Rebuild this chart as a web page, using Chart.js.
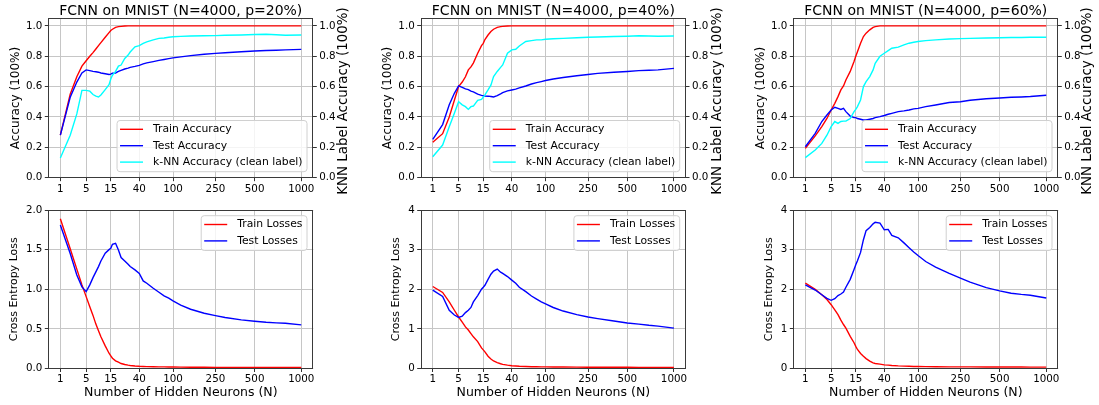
<!DOCTYPE html>
<html><head><meta charset="utf-8">
<script src="https://cdn.jsdelivr.net/npm/chart.js@4.4.1/dist/chart.umd.min.js"></script>
<style>
html,body{margin:0;padding:0;background:#fff;}
#wrap{position:relative;width:1099px;height:405px;overflow:hidden;background:#fff;}
#wrap canvas{position:absolute;left:0;top:0;}
</style></head><body>
<div id="wrap">
<canvas id="c0" width="1099" height="405"></canvas>
<canvas id="c1" width="1099" height="405"></canvas>
<canvas id="c2" width="1099" height="405"></canvas>
<canvas id="c3" width="1099" height="405"></canvas>
<canvas id="c4" width="1099" height="405"></canvas>
<canvas id="c5" width="1099" height="405"></canvas>
</div>
<script>
// ---------------- DATA ----------------
const hiddenNeurons = [1,2,3,4,5,6,7,8,9,10,12,14,15,16,18,20,22,25,28,30,35,40,45,50,60,70,80,90,100,120,150,200,250,300,400,500,600,700,800,1000];
const xTickNeurons = [1,5,15,40,100,250,500,1000];
const accTicks = [0,0.2,0.4,0.6,0.8,1.0];
const loss20Ticks = [0,0.5,1.0,1.5,2.0];
const lossHighTicks = [0,1,2,3,4];
const panelTitles = ['FCNN on MNIST (N=4000, p=20%)','FCNN on MNIST (N=4000, p=40%)','FCNN on MNIST (N=4000, p=60%)'];

const trainAcc20 = [0.28,0.55,0.665,0.735,0.77,0.80,0.824,0.848,0.87,0.89,0.925,0.956,0.97,0.978,0.99,0.995,0.997,0.999,1,1,1,1,1,1,1,1,1,1,1,1,1,1,1,1,1,1,1,1,1,1];
const testAcc20  = [0.28,0.53,0.63,0.69,0.71,0.705,0.70,0.698,0.695,0.69,0.685,0.68,0.682,0.688,0.69,0.70,0.707,0.716,0.722,0.727,0.733,0.74,0.75,0.756,0.765,0.773,0.779,0.784,0.789,0.796,0.804,0.813,0.819,0.823,0.83,0.835,0.838,0.84,0.842,0.845];
const knnAcc20   = [0.13,0.28,0.42,0.575,0.575,0.57,0.548,0.537,0.532,0.545,0.58,0.612,0.65,0.675,0.70,0.735,0.742,0.785,0.808,0.828,0.862,0.87,0.885,0.895,0.908,0.918,0.92,0.925,0.928,0.931,0.933,0.935,0.936,0.938,0.94,0.943,0.945,0.942,0.938,0.94];

const trainAcc40 = [0.233,0.29,0.40,0.51,0.60,0.63,0.665,0.71,0.73,0.755,0.82,0.87,0.885,0.91,0.94,0.963,0.978,0.99,0.995,0.997,0.999,1,1,1,1,1,1,1,1,1,1,1,1,1,1,1,1,1,1,1];
const testAcc40  = [0.253,0.35,0.48,0.556,0.605,0.595,0.585,0.58,0.57,0.565,0.55,0.542,0.54,0.538,0.537,0.535,0.532,0.54,0.552,0.56,0.572,0.578,0.583,0.592,0.604,0.617,0.626,0.633,0.64,0.65,0.66,0.672,0.68,0.687,0.695,0.70,0.705,0.708,0.71,0.72];
const knnAcc40   = [0.138,0.215,0.336,0.424,0.50,0.48,0.468,0.45,0.468,0.472,0.51,0.516,0.53,0.545,0.578,0.61,0.666,0.70,0.727,0.743,0.82,0.842,0.846,0.868,0.897,0.903,0.908,0.908,0.912,0.915,0.918,0.922,0.925,0.927,0.93,0.932,0.935,0.933,0.932,0.933];

const trainAcc60 = [0.193,0.275,0.336,0.39,0.446,0.49,0.534,0.578,0.604,0.644,0.70,0.765,0.80,0.83,0.886,0.93,0.952,0.974,0.99,0.995,1,1,1,1,1,1,1,1,1,1,1,1,1,1,1,1,1,1,1,1];
const testAcc60  = [0.204,0.292,0.37,0.413,0.446,0.464,0.457,0.45,0.457,0.435,0.406,0.396,0.396,0.39,0.385,0.38,0.38,0.385,0.39,0.396,0.402,0.41,0.418,0.424,0.435,0.44,0.446,0.453,0.457,0.468,0.479,0.495,0.50,0.51,0.52,0.525,0.53,0.532,0.535,0.543];
const knnAcc60   = [0.132,0.182,0.226,0.28,0.336,0.37,0.358,0.37,0.373,0.373,0.39,0.435,0.45,0.468,0.512,0.60,0.633,0.666,0.71,0.754,0.80,0.82,0.837,0.853,0.86,0.875,0.886,0.892,0.897,0.903,0.908,0.914,0.916,0.918,0.92,0.922,0.924,0.924,0.925,0.925];

const trainLoss20 = [1.89,1.51,1.254,1.055,0.907,0.78,0.67,0.56,0.475,0.40,0.285,0.193,0.16,0.13,0.097,0.08,0.063,0.05,0.042,0.038,0.032,0.028,0.026,0.024,0.022,0.021,0.02,0.019,0.018,0.017,0.016,0.015,0.014,0.014,0.013,0.013,0.012,0.012,0.012,0.012];
const testLoss20  = [1.81,1.45,1.18,1.03,0.97,1.055,1.147,1.22,1.286,1.357,1.454,1.50,1.517,1.567,1.58,1.496,1.40,1.357,1.315,1.286,1.244,1.20,1.105,1.076,1.013,0.962,0.916,0.887,0.853,0.80,0.748,0.697,0.668,0.643,0.613,0.597,0.584,0.576,0.571,0.55];

const trainLoss40 = [2.07,1.92,1.68,1.47,1.30,1.17,1.05,0.97,0.88,0.80,0.68,0.52,0.47,0.42,0.31,0.24,0.19,0.15,0.12,0.105,0.085,0.07,0.062,0.056,0.05,0.046,0.043,0.041,0.04,0.038,0.036,0.034,0.033,0.032,0.031,0.03,0.029,0.029,0.028,0.028];
const testLoss40  = [1.98,1.82,1.47,1.35,1.29,1.32,1.41,1.47,1.54,1.68,1.84,2.0,2.05,2.1,2.25,2.38,2.46,2.51,2.43,2.40,2.32,2.23,2.15,2.05,1.94,1.83,1.75,1.68,1.63,1.54,1.45,1.36,1.30,1.26,1.20,1.15,1.12,1.09,1.07,1.02];

const trainLoss60 = [2.155,2.0,1.86,1.74,1.61,1.48,1.36,1.22,1.11,1.02,0.81,0.65,0.56,0.48,0.38,0.31,0.25,0.185,0.14,0.125,0.11,0.092,0.084,0.075,0.065,0.06,0.055,0.052,0.05,0.048,0.045,0.042,0.041,0.04,0.038,0.037,0.036,0.036,0.035,0.035];
const testLoss60  = [2.11,1.98,1.86,1.77,1.72,1.76,1.84,1.88,1.93,2.05,2.25,2.50,2.62,2.72,2.93,3.25,3.48,3.56,3.65,3.69,3.67,3.50,3.51,3.36,3.30,3.17,3.05,2.94,2.85,2.70,2.56,2.40,2.28,2.18,2.04,1.96,1.90,1.87,1.85,1.78];

// ---------------- STYLE / LAYOUT ----------------
Chart.defaults.font.family = '"DejaVu Sans", sans-serif';
Chart.defaults.color = '#000';
const FONT = '"DejaVu Sans", sans-serif';
const TICK_FS = 10.3;
const GRID = '#c6c6c6';
const RED = '#ff0000', BLUE = '#0000ff', CYAN = '#00ffff';
const LW = 1.4;

const colL = [48.3, 420.7, 793.3];
const colR = [313.3, 686, 1058.3];
const topY = [18.3, 177.7];
const botY = [210, 368.5];
const yLabTopX = [16, 388, 761];
const yLabBotX = [14, 396, 769.5];
const rightLabX = [343.3, 718, 1088];
const RIGHT_W = 45;

const fwd = n => Math.pow(n, 0.25);
const xLo = fwd(hiddenNeurons[0]), xHi = fwd(hiddenNeurons[hiddenNeurons.length-1]);
const xMin = xLo - 0.05*(xHi-xLo), xMax = xHi + 0.05*(xHi-xLo);
const pts = arr => hiddenNeurons.map((n,i) => ({x: fwd(n), y: arr[i]}));

const decor = {
  id: 'decor',
  afterDatasetsDraw(chart, args, o) {
    const ctx = chart.ctx, a = chart.chartArea;
    ctx.save();
    ctx.strokeStyle = '#3a3a3a'; ctx.lineWidth = 1;
    const l = Math.round(a.left)+0.5, t = Math.round(a.top)+0.5, r = Math.round(a.right)-0.5, b = Math.round(a.bottom)-0.5;
    ctx.strokeRect(l, t, r-l, b-t);
    ctx.fillStyle = '#000';
    if (o.title) {
      ctx.font = '14px ' + FONT;
      ctx.textAlign = 'center'; ctx.textBaseline = 'alphabetic';
      ctx.fillText(o.title, (a.left+a.right)/2, 15);
    }
    if (o.rightLabel) {
      ctx.save();
      ctx.translate(o.rightLabel.x, (a.top+a.bottom)/2 + 3);
      ctx.rotate(-Math.PI/2);
      ctx.font = '13.4px ' + FONT;
      ctx.textAlign = 'center'; ctx.textBaseline = 'middle';
      ctx.fillText(o.rightLabel.text, 0, 0);
      ctx.restore();
    }
    if (o.legend) {
      const items = o.legend.items;
      ctx.font = '10.8px ' + FONT;
      let mw = 0; items.forEach(it => mw = Math.max(mw, ctx.measureText(it.text).width));
      const rowH = 16.4, padTop = 8.8, padBot = 9.6;
      const w = 3 + 23 + 10 + mw + 4.5;
      const h = padTop + rowH*(items.length-1) + padBot;
      const bx = a.right - 6.3 - w;
      const by = o.legend.corner === 'ur' ? a.top + 5.7 : a.bottom - 6 - h;
      const rad = 3;
      ctx.beginPath();
      ctx.moveTo(bx+rad, by); ctx.lineTo(bx+w-rad, by); ctx.arcTo(bx+w, by, bx+w, by+rad, rad);
      ctx.lineTo(bx+w, by+h-rad); ctx.arcTo(bx+w, by+h, bx+w-rad, by+h, rad);
      ctx.lineTo(bx+rad, by+h); ctx.arcTo(bx, by+h, bx, by+h-rad, rad);
      ctx.lineTo(bx, by+rad); ctx.arcTo(bx, by, bx+rad, by, rad); ctx.closePath();
      ctx.fillStyle = 'rgba(255,255,255,0.8)'; ctx.fill();
      ctx.strokeStyle = '#d0d0d0'; ctx.lineWidth = 1; ctx.stroke();
      items.forEach((it, i) => {
        const yy = by + padTop + rowH*i;
        ctx.strokeStyle = it.color; ctx.lineWidth = LW;
        ctx.beginPath(); ctx.moveTo(bx+3, yy); ctx.lineTo(bx+26, yy); ctx.stroke();
        ctx.fillStyle = '#000'; ctx.textAlign = 'left'; ctx.textBaseline = 'middle';
        ctx.fillText(it.text, bx+36, yy);
      });
    }
    ctx.restore();
  }
};

function xScale(withTitle, h) {
  return {
    type: 'linear', min: xMin, max: xMax, bounds: 'data',
    afterBuildTicks: s => { s.ticks = xTickNeurons.map(n => ({value: fwd(n)})); },
    ticks: { callback: (v, i) => String(xTickNeurons[i]), autoSkip: false, maxRotation: 0, minRotation: 0,
             font: {size: TICK_FS}, color: '#000', padding: 1.5 },
    grid: { color: GRID, lineWidth: 1, drawTicks: true, tickLength: 3.5, tickColor: '#333', tickWidth: 1 },
    border: { display: false },
    title: withTitle ? { display: true, text: 'Number of Hidden Neurons (N)', font: {size: 12.5}, color: '#000', padding: 0 } : { display: false },
    afterFit: s => { s.height = h; }
  };
}
function yScale(pos, max, ticks, fmt, width, title, titleSize, onArea) {
  return {
    type: 'linear', position: pos, min: 0, max: max, bounds: 'data',
    afterBuildTicks: s => { s.ticks = ticks.map(v => ({value: v})); },
    ticks: { callback: (v, i) => fmt(ticks[i]), autoSkip: false, font: {size: TICK_FS}, color: '#000', padding: 2.5 },
    grid: { color: GRID, lineWidth: 1, drawOnChartArea: onArea, drawTicks: true, tickLength: 3.5, tickColor: '#333', tickWidth: 1 },
    border: { display: false },
    title: title ? { display: true, text: title, font: {size: titleSize}, color: '#000', padding: 0 } : { display: false },
    afterFit: s => { s.width = width; }
  };
}
const ds = (label, arr, color, axis, order) => ({ label, data: pts(arr), borderColor: color, backgroundColor: color,
  borderWidth: LW, pointRadius: 0, tension: 0, fill: false, yAxisID: axis, order });

const accSets = [[trainAcc20,testAcc20,knnAcc20],[trainAcc40,testAcc40,knnAcc40],[trainAcc60,testAcc60,knnAcc60]];
const lossSets = [[trainLoss20,testLoss20],[trainLoss40,testLoss40],[trainLoss60,testLoss60]];

for (let c = 0; c < 3; c++) {
  const padL = yLabTopX[c] - 7.2;
  new Chart(document.getElementById('c' + c), {
    type: 'line',
    data: { datasets: [
      ds('Train Accuracy', accSets[c][0], RED, 'y', 3),
      ds('Test Accuracy', accSets[c][1], BLUE, 'y', 2),
      ds('k-NN Accuracy (clean label)', accSets[c][2], CYAN, 'y2', 1)
    ]},
    options: {
      responsive: false, animation: false, devicePixelRatio: 1,
      layout: { padding: { left: padL, top: topY[0], right: 1099 - colR[c] - RIGHT_W, bottom: 405 - topY[1] - 20 } },
      scales: {
        x: xScale(false, 20),
        y: yScale('left', 1.05, accTicks, v => v.toFixed(1), colL[c] - padL, 'Accuracy (100%)', 12, true),
        y2: yScale('right', 1.05, accTicks, v => v.toFixed(1), RIGHT_W, null, 12, false)
      },
      plugins: {
        legend: { display: false }, tooltip: { enabled: false },
        decor: {
          title: panelTitles[c],
          rightLabel: { text: 'KNN Label Accuracy (100%)', x: rightLabX[c] },
          legend: { corner: 'lr', items: [
            {text: 'Train Accuracy', color: RED}, {text: 'Test Accuracy', color: BLUE},
            {text: 'k-NN Accuracy (clean label)', color: CYAN}] }
        }
      }
    },
    plugins: [decor]
  });
  const padLb = yLabBotX[c] - 6.6;
  const lossMax = c === 0 ? 2 : 4;
  const lossTicks = c === 0 ? loss20Ticks : lossHighTicks;
  const lossFmt = c === 0 ? (v => v.toFixed(1)) : (v => String(v));
  new Chart(document.getElementById('c' + (c + 3)), {
    type: 'line',
    data: { datasets: [
      ds('Train Losses', lossSets[c][0], RED, 'y', 2),
      ds('Test Losses', lossSets[c][1], BLUE, 'y', 1)
    ]},
    options: {
      responsive: false, animation: false, devicePixelRatio: 1,
      layout: { padding: { left: padLb, top: botY[0], right: 1099 - colR[c], bottom: 4.5 } },
      scales: {
        x: xScale(true, 32),
        y: yScale('left', lossMax, lossTicks, lossFmt, colL[c] - padLb, 'Cross Entropy Loss', 11, true)
      },
      plugins: {
        legend: { display: false }, tooltip: { enabled: false },
        decor: {
          legend: { corner: 'ur', items: [ {text: 'Train Losses', color: RED}, {text: 'Test Losses', color: BLUE} ] }
        }
      }
    },
    plugins: [decor]
  });
}
</script>
</body></html>
